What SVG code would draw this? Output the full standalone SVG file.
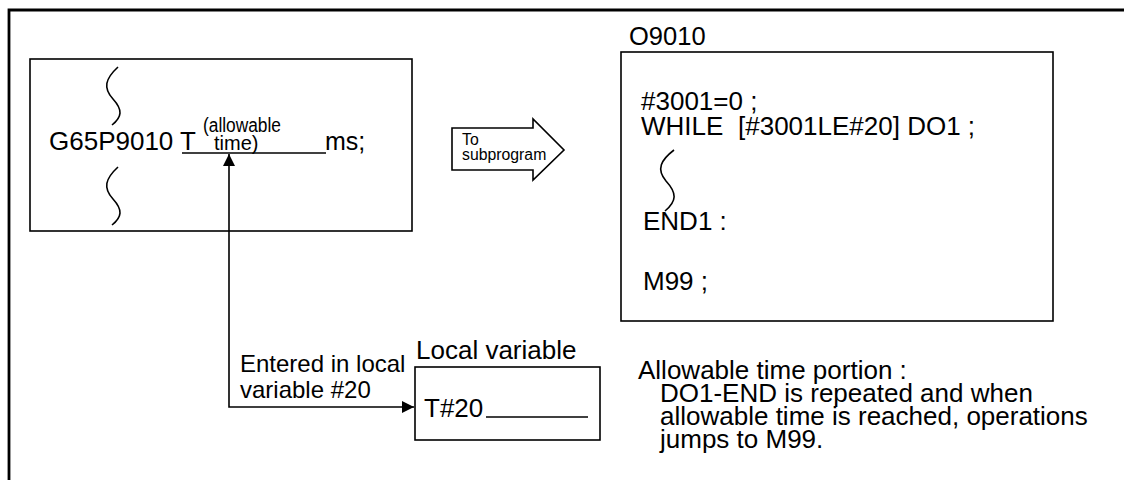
<svg xmlns="http://www.w3.org/2000/svg" width="1124" height="480" viewBox="0 0 1124 480">
  <style>
    .t { font-family: "Liberation Sans", Arial, sans-serif; fill: #000; }
    .box { fill: #fff; stroke: #000; stroke-width: 1.6; }
    .ln { fill: none; stroke: #000; stroke-width: 1.6; }
    .sq { fill: none; stroke: #000; stroke-width: 1.6; }
  </style>
  <defs>
    <marker id="ah" viewBox="0 0 12 12" refX="12" refY="6" markerWidth="12" markerHeight="12" markerUnits="userSpaceOnUse" orient="auto-start-reverse">
      <path d="M0,0 L12,6 L0,12 Z" fill="#000"/>
    </marker>
  </defs>
  <rect width="1124" height="480" fill="#fff"/>
  <path d="M9,480 V10 H1124" fill="none" stroke="#000" stroke-width="2.8"/>

  <g id="main-program">
    <rect class="box" x="30" y="59" width="382" height="172"/>
    <path class="sq" d="M118,67 C105,79 103,88 113,99 C123,110 122,117 112,125"/>
    <path class="sq" d="M118,167 C105,179 103,188 113,199 C123,210 122,217 112,225"/>
    <text class="t" x="49" y="150" font-size="26">G65P9010 T</text>
    <text class="t" x="203" y="132" font-size="20" textLength="78" lengthAdjust="spacingAndGlyphs">(allowable</text>
    <text class="t" x="214" y="150" font-size="20">time)</text>
    <text class="t" x="325" y="150" font-size="25">ms;</text>
    <line class="ln" x1="182" y1="153" x2="326" y2="153"/>
  </g>

  <g id="to-subprogram">
    <polygon class="box" points="452,128 533,128 533,119 564,150 533,180 533,170 452,170"/>
    <text class="t" x="462" y="145" font-size="15.8">To</text>
    <text class="t" x="462" y="160" font-size="15.8">subprogram</text>
  </g>

  <g id="subprogram">
    <text class="t" x="629" y="45" font-size="25.5">O9010</text>
    <rect class="box" x="621" y="52" width="432" height="269"/>
    <text class="t" x="641" y="110" font-size="26">#3001=0 ;</text>
    <text class="t" y="135" font-size="26"><tspan x="641">WHILE</tspan><tspan x="738">[#3001LE#20] DO1 ;</tspan></text>
    <path class="sq" d="M674,150 C661,160 656,169 666,181 C677,193 677,201 665,211"/>
    <text class="t" x="643" y="230" font-size="26">END1 :</text>
    <text class="t" x="643" y="290" font-size="26">M99 ;</text>
  </g>

  <g id="local-variable">
    <text class="t" x="416" y="359" font-size="26">Local variable</text>
    <rect class="box" x="415" y="367" width="185" height="73"/>
    <text class="t" x="424" y="417" font-size="26">T#20</text>
    <line class="ln" x1="486" y1="417" x2="588" y2="417"/>
  </g>

  <g id="note">
    <text class="t" x="638" y="379" font-size="26">Allowable time portion :</text>
    <text class="t" x="660" y="402" font-size="26">DO1-END is repeated and when</text>
    <text class="t" x="660" y="425" font-size="26">allowable time is reached, operations</text>
    <text class="t" x="660" y="448" font-size="26">jumps to M99.</text>
  </g>

  <g id="connectors">
    <path class="ln" d="M229,154 V407 H414" marker-start="url(#ah)" marker-end="url(#ah)"/>
    <text class="t" x="240" y="372" font-size="24">Entered in local</text>
    <text class="t" x="240" y="398" font-size="24">variable #20</text>
  </g>
</svg>
